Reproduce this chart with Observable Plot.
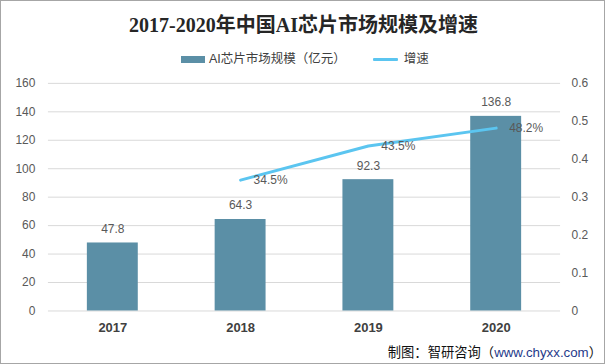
<!DOCTYPE html>
<html>
<head>
<meta charset="utf-8">
<script src="https://cdn.jsdelivr.net/npm/d3@7"></script>
<script src="https://cdn.jsdelivr.net/npm/@observablehq/plot@0.6"></script>
<style>
  html, body { margin: 0; padding: 0; background: #fff; }
  #wrap { position: relative; width: 605px; height: 364px; box-sizing: border-box; border: 1px solid #a6a6a6; overflow: hidden; font-family: "Liberation Sans", "Noto Sans CJK SC", sans-serif; }
  #chart { position: absolute; left: -1px; top: -1px; }
  #title { position: absolute; left: 0; width: 605px; top: 11px; text-align: center; font-family: "Liberation Serif", "Noto Sans CJK SC", serif; font-weight: bold; font-size: 20px; color: #262626; line-height: 26px; }
  #legend { position: absolute; top: 50px; left: 180px; font-size: 12.5px; color: #404040; display: flex; align-items: center; line-height: 16px; white-space: nowrap; }
  .sw-bar { display: inline-block; width: 24px; height: 7px; background: #5b8fa6; margin-right: 4px; }
  .sw-line { display: inline-block; width: 25px; height: 3px; background: #5bc5f0; margin-left: 27px; margin-right: 6px; border-radius: 1px; }
  #caption { position: absolute; right: 2px; top: 343px; font-size: 13.3px; color: #111; white-space: nowrap; line-height: 18px; }
  #caption .url { color: #1f3a8a; }
</style>
</head>
<body>
<div id="wrap">
  <div id="chart"></div>
  <div id="title">2017-2020年中国AI芯片市场规模及增速</div>
  <div id="legend"><span class="sw-bar"></span><span>AI芯片市场规模（亿元）</span><span class="sw-line"></span><span>增速</span></div>
  <div id="caption">制图：智研咨询（<span class="url">www.chyxx.com</span>）</div>
</div>
<script>
const years = ["2017", "2018", "2019", "2020"];
const marketSize = [47.8, 64.3, 92.3, 136.8];
const growthRate = [null, 0.345, 0.435, 0.482];
const leftTicks = [0, 20, 40, 60, 80, 100, 120, 140, 160];
const rightTicks = [0, 0.1, 0.2, 0.3, 0.4, 0.5, 0.6];

const leftMax = 160, rightMax = 0.6;
const toLeft = r => r * leftMax / rightMax;

const bars = years.map((y, i) => ({year: y, value: marketSize[i]}));
const rates = years.map((y, i) => ({year: y, rate: growthRate[i]})).filter(d => d.rate != null);

const plot = Plot.plot({
  width: 605,
  height: 364,
  marginTop: 83,
  marginBottom: 53,
  marginLeft: 48,
  marginRight: 44,
  style: {fontFamily: "'Liberation Sans', 'Noto Sans CJK SC', sans-serif", background: "transparent"},
  x: {domain: years, paddingInner: 0.6, paddingOuter: 0.3, label: null},
  y: {domain: [0, leftMax], label: null},
  marks: [
    Plot.ruleY(leftTicks, {stroke: "#d9d9d9", strokeWidth: 1}),
    Plot.axisY(leftTicks, {anchor: "left", tickSize: 0, tickPadding: 13, fontSize: 12, fill: "#595959", label: null}),
    Plot.axisY(rightTicks.map(toLeft), {anchor: "right", tickSize: 0, tickPadding: 11, fontSize: 12, fill: "#595959", label: null, tickFormat: (d, i) => String(rightTicks[i])}),
    Plot.axisX(years, {anchor: "bottom", tickSize: 0, tickPadding: 12, fontSize: 13, fontWeight: "bold", fill: "#404040", label: null}),
    Plot.barY(bars, {x: "year", y: "value", fill: "#5b8fa6"}),
    Plot.text(bars, {x: "year", y: "value", text: d => d.value.toFixed(1), dy: -14, fontSize: 12, fill: "#595959"}),
    Plot.line(rates, {x: "year", y: d => toLeft(d.rate), stroke: "#5bc5f0", strokeWidth: 3, strokeLinecap: "round"}),
    Plot.text(rates, {x: "year", y: d => toLeft(d.rate), text: d => (d.rate * 100).toFixed(1) + "%", dx: 13, textAnchor: "start", fontSize: 12, fill: "#595959"})
  ]
});
document.getElementById("chart").appendChild(plot);
</script>
</body>
</html>
